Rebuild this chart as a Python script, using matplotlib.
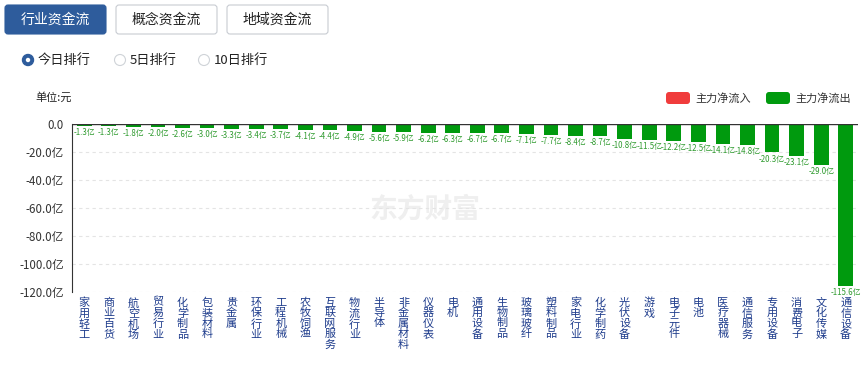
import matplotlib
matplotlib.use("Agg")
import matplotlib.pyplot as plt
from matplotlib.patches import FancyBboxPatch, Circle
import numpy as np

plt.rcParams['font.family'] = ['Noto Sans CJK SC', 'DejaVu Sans']

industries = ["家用轻工", "商业百货", "航空机场", "贸易行业", "化学制品", "包装材料", "贵金属",
              "环保行业", "工程机械", "农牧饲渔", "互联网服务", "物流行业", "半导体", "非金属材料",
              "仪器仪表", "电机", "通用设备", "生物制品", "玻璃玻纤", "塑料制品", "家电行业",
              "化学制药", "光伏设备", "游戏", "电子元件", "电池", "医疗器械", "通信服务",
              "专用设备", "消费电子", "文化传媒", "通信设备"]
net_flow = [-1.3, -1.3, -1.8, -2.0, -2.6, -3.0, -3.3, -3.4, -3.7, -4.1, -4.4, -4.9, -5.6, -5.9,
            -6.2, -6.3, -6.7, -6.7, -7.1, -7.7, -8.4, -8.7, -10.8, -11.5, -12.2, -12.5, -14.1,
            -14.8, -20.3, -23.1, -29.0, -115.6]
y_ticks = [0, -20, -40, -60, -80, -100, -120]
tabs = ["行业资金流", "概念资金流", "地域资金流"]
ranks = ["今日排行", "5日排行", "10日排行"]
legend_names = ["主力净流入", "主力净流出"]

W, H = 867, 365
fig = plt.figure(figsize=(W / 100, H / 100), dpi=100)

green = "#009a0e"
red = "#f03c3c"
blue = "#2e5c9c"

# chart area
ax = fig.add_axes([72 / W, 1 - 292 / H, (858 - 72) / W, (292 - 124) / H])
x = np.arange(len(industries))
bars = ax.bar(x, net_flow, width=0.6, color=green, zorder=3)
ax.bar_label(bars, labels=[f"{v:.1f}亿" for v in net_flow], padding=1.5,
             color="#2e9a2e", fontsize=5.7, zorder=4)
ax.set_xlim(-0.5, len(industries) - 0.5)
ax.set_ylim(-120, 0)
ax.set_yticks(y_ticks)
ax.set_yticklabels(["0.0"] + [f"{v:.1f}亿" for v in y_ticks[1:]], fontsize=8.3, color="#333333")
ax.set_xticks(x)
ax.set_xticklabels(["\n".join(n) for n in industries], fontsize=8, color="#1e3c8c",
                   linespacing=1.05, va="top")
ax.tick_params(length=0, pad=4)
ax.tick_params(axis="y", pad=6)
for s in ["top", "right", "bottom"]:
    ax.spines[s].set_visible(False)
ax.spines["left"].set_color("#333333")
ax.axhline(0, color="#333333", lw=1, zorder=5)
ax.yaxis.grid(True, ls=(0, (3, 3)), color="#e4e4e4", lw=0.8)
ax.set_axisbelow(True)
ax.patch.set_alpha(0)

# overlay in pixel coordinates for the page widgets
ov = fig.add_axes([0, 0, 1, 1], zorder=-1)
ov.set_xlim(0, W)
ov.set_ylim(H, 0)
ov.axis("off")

tab_x = [5, 116, 227]
for i, (tx, name) in enumerate(zip(tab_x, tabs)):
    fc = blue if i == 0 else "white"
    ec = blue if i == 0 else "#c8ccd2"
    ov.add_patch(FancyBboxPatch((tx, 5), 101, 29, boxstyle="round,pad=0,rounding_size=3",
                                fc=fc, ec=ec, lw=0.8))
    ov.text(tx + 50.5, 20, name, ha="center", va="center", fontsize=10,
            color="white" if i == 0 else "#222222")

radio_x = [28, 120, 204]
for i, (rx, name) in enumerate(zip(radio_x, ranks)):
    if i == 0:
        ov.add_patch(Circle((rx, 60), 5.5, fc=blue, ec=blue))
        ov.add_patch(Circle((rx, 60), 2.2, fc="white", ec="none"))
    else:
        ov.add_patch(Circle((rx, 60), 5.5, fc="white", ec="#cfd3d8", lw=0.8))
    ov.text(rx + 10, 60, name, ha="left", va="center", fontsize=9.5, color="#222222")

ov.text(35, 97, "单位:元", ha="left", va="center", fontsize=8, color="#222222")

for lx, col, name in zip([666, 766], [red, green], legend_names):
    ov.add_patch(FancyBboxPatch((lx, 92), 24, 12, boxstyle="round,pad=0,rounding_size=3",
                                fc=col, ec="none"))
    ov.text(lx + 29, 98, name, ha="left", va="center", fontsize=8, color="#333333")

# watermark
ov.text(425, 210, "东方财富", ha="center", va="center", fontsize=20, fontweight="bold",
        color="#efefef", zorder=0)

fig.savefig("out.png", dpi=100)
